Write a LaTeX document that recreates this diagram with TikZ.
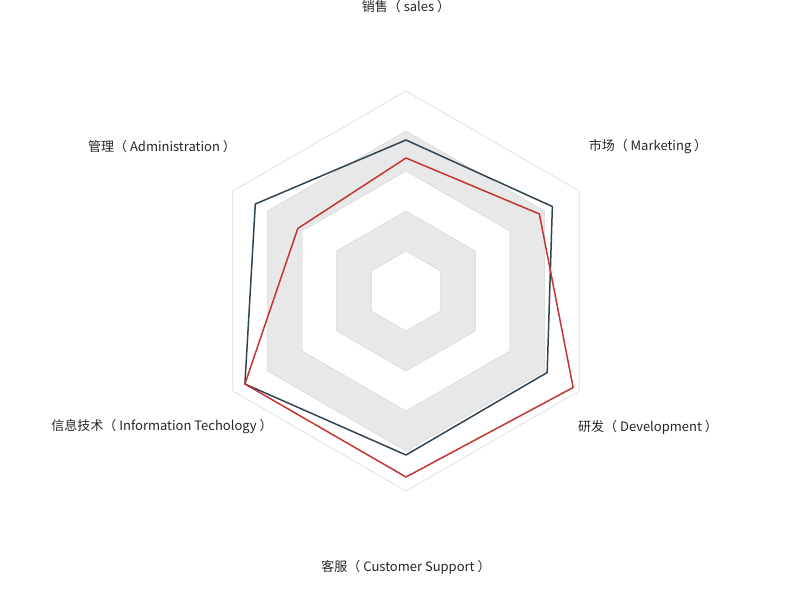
\documentclass[tikz,border=0pt]{standalone}
\usepackage{fontspec}
\setmainfont{Noto Sans CJK SC}
\begin{document}
\begin{tikzpicture}[x=1pt,y=-1pt,
  lbl/.style={font=\fontsize{13}{15}\selectfont, text=black!85, inner sep=0pt},
  grid/.style={draw=black!15, line width=0.6pt},
  band/.style={fill=black!9},
  ser/.style={line width=1.5pt, line join=round}]
\useasboundingbox (0,0) rectangle (812,604);
\coordinate (c) at (406,291);
\def\hex#1{([shift={(c)}]90:#1) -- ([shift={(c)}]30:#1) -- ([shift={(c)}]-30:#1) -- ([shift={(c)}]-90:#1) -- ([shift={(c)}]-150:#1) -- ([shift={(c)}]150:#1) -- cycle}
\fill[band,even odd rule] \hex{160} \hex{120};
\fill[band,even odd rule] \hex{80} \hex{40};
\foreach \r in {40,80,120,160,200} \draw[grid] \hex{\r};
\draw[ser, draw={rgb,255:red,47;green,69;blue,84}]
  ([shift={(c)}]-90:151) -- ([shift={(c)}]-30:169) -- ([shift={(c)}]30:163) -- ([shift={(c)}]90:164) -- ([shift={(c)}]150:186) -- ([shift={(c)}]210:174) -- cycle;
\draw[ser, draw={rgb,255:red,194;green,53;blue,49}]
  ([shift={(c)}]-90:133) -- ([shift={(c)}]-30:154) -- ([shift={(c)}]30:193) -- ([shift={(c)}]90:186) -- ([shift={(c)}]150:186) -- ([shift={(c)}]210:125) -- cycle;
\node[lbl] (l1) at (406,7) {销售（ sales ）};
\node[lbl] (l2) at (648,147) {市场（ Marketing ）};
\node[lbl] (l3) at (648,427) {研发（ Development ）};
\node[lbl] (l4) at (406,567) {客服（ Customer Support ）};
\node[lbl] (l5) at (162,427) {信息技术（ Information Techology ）};
\node[lbl] (l6) at (162,147) {管理（ Administration ）};
\end{tikzpicture}
\end{document}
